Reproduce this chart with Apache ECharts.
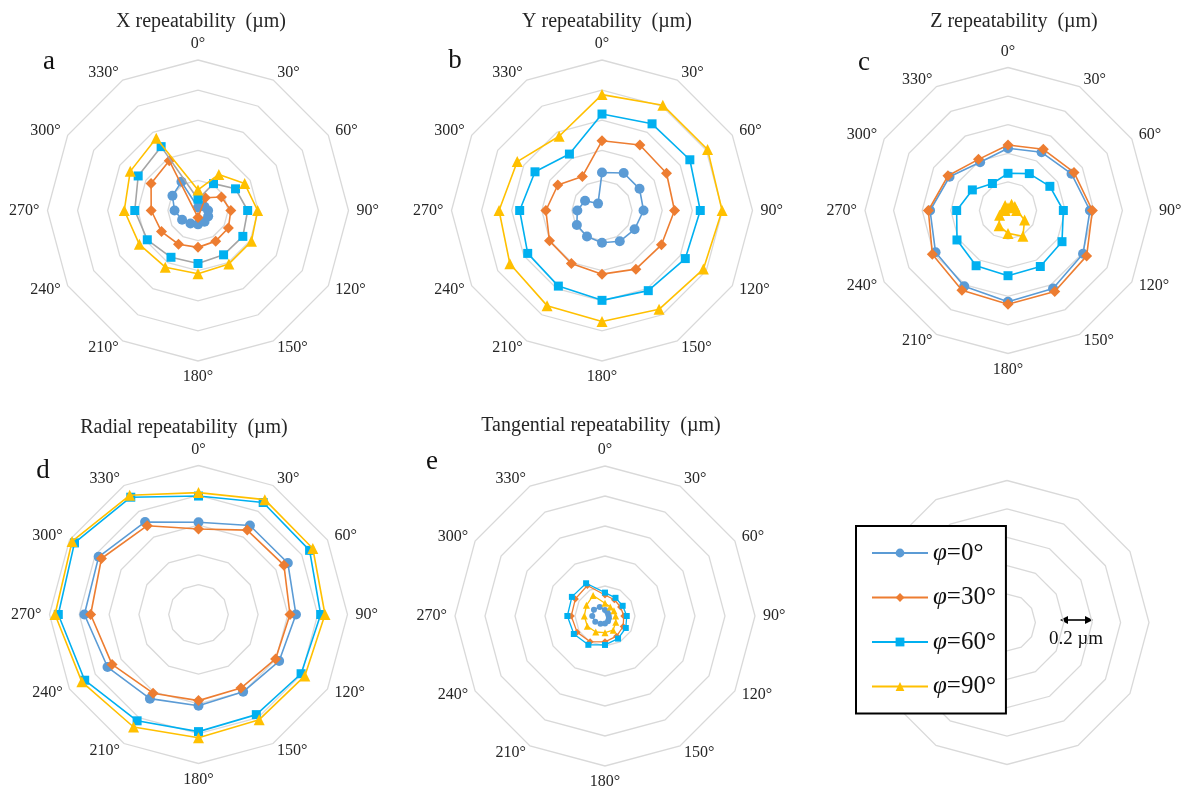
<!DOCTYPE html>
<html>
<head>
<meta charset="utf-8">
<script src="https://cdn.jsdelivr.net/npm/echarts@6/dist/echarts.min.js"></script>
<style>
  html, body { margin: 0; padding: 0; background: #ffffff; }
  #chart { width: 1186px; height: 792px; }
</style>
</head>
<body>
<div id="chart"></div>
<script>
// Spoke labels, clockwise from the top
const angleLabels = ['0°', '30°', '60°', '90°', '120°', '150°', '180°', '210°', '240°', '270°', '300°', '330°'];
const phiNames = ['φ=0°', 'φ=30°', 'φ=60°', 'φ=90°'];
const panelTitles = ['X repeatability  (µm)', 'Y repeatability  (µm)', 'Z repeatability  (µm)',
                     'Radial repeatability  (µm)', 'Tangential repeatability  (µm)'];
const panelLetters = ['a', 'b', 'c', 'd', 'e'];

// Repeatability (µm) at each spoke angle, one array per tilt angle φ
const xPhi0  = [0.020, 0.040, 0.050, 0.067, 0.078, 0.087, 0.092, 0.100, 0.122, 0.156, 0.196, 0.220];
const xPhi30 = [-0.046, 0.098, 0.180, 0.218, 0.233, 0.235, 0.245, 0.259, 0.280, 0.311, 0.360, 0.382];
const xPhi60 = [0.075, 0.206, 0.288, 0.330, 0.344, 0.340, 0.352, 0.359, 0.389, 0.420, 0.459, 0.490];
const xPhi90 = [0.137, 0.277, 0.358, 0.396, 0.410, 0.410, 0.420, 0.435, 0.450, 0.490, 0.520, 0.555];

const yPhi0  = [0.252, 0.288, 0.288, 0.276, 0.250, 0.236, 0.214, 0.200, 0.193, 0.164, 0.130, 0.053];
const yPhi30 = [0.463, 0.503, 0.495, 0.482, 0.456, 0.450, 0.423, 0.407, 0.403, 0.373, 0.339, 0.261];
const yPhi60 = [0.641, 0.665, 0.674, 0.653, 0.639, 0.615, 0.597, 0.580, 0.570, 0.547, 0.514, 0.433];
const yPhi90 = [0.770, 0.808, 0.810, 0.798, 0.778, 0.758, 0.737, 0.730, 0.707, 0.684, 0.650, 0.570];

const zPhi0  = [0.435, 0.470, 0.513, 0.573, 0.606, 0.630, 0.638, 0.612, 0.585, 0.545, 0.472, 0.390];
const zPhi30 = [0.458, 0.494, 0.533, 0.590, 0.635, 0.654, 0.656, 0.644, 0.611, 0.557, 0.485, 0.413];
const zPhi60 = [0.260, 0.298, 0.338, 0.387, 0.436, 0.452, 0.456, 0.446, 0.412, 0.359, 0.288, 0.218];
const zPhi90 = [0.020, 0.050, 0.055, 0.060, 0.134, 0.208, 0.160, 0.124, 0.068, 0.020, 0.030, 0.040];

const rPhi0  = [0.619, 0.690, 0.692, 0.654, 0.625, 0.599, 0.612, 0.652, 0.705, 0.766, 0.774, 0.717];
const rPhi30 = [0.574, 0.654, 0.662, 0.614, 0.597, 0.570, 0.578, 0.610, 0.670, 0.724, 0.752, 0.688];
const rPhi60 = [0.795, 0.868, 0.861, 0.820, 0.795, 0.776, 0.786, 0.824, 0.882, 0.941, 0.961, 0.909];
const rPhi90 = [0.818, 0.890, 0.886, 0.849, 0.824, 0.815, 0.827, 0.872, 0.904, 0.963, 0.980, 0.924];

const tPhi0  = [0.040, 0.030, 0.025, 0.025, 0.030, 0.040, 0.050, 0.060, 0.075, 0.085, 0.085, 0.070];
const tPhi30 = [0.140, 0.125, 0.120, 0.125, 0.140, 0.155, 0.172, 0.198, 0.215, 0.225, 0.228, 0.235];
const tPhi60 = [0.156, 0.140, 0.136, 0.145, 0.160, 0.174, 0.193, 0.222, 0.240, 0.251, 0.255, 0.252];
const tPhi90 = [0.085, 0.070, 0.069, 0.071, 0.083, 0.109, 0.111, 0.123, 0.136, 0.138, 0.143, 0.158];

const panelData = [
  [xPhi0, xPhi30, xPhi60, xPhi90],
  [yPhi0, yPhi30, yPhi60, yPhi90],
  [zPhi0, zPhi30, zPhi60, zPhi90],
  [rPhi0, rPhi30, rPhi60, rPhi90],
  [tPhi0, tPhi30, tPhi60, tPhi90]
];

// ---- layout & styling ----
const SERIF = '"Liberation Serif", "Times New Roman", serif';
const TEXT = '#262626';
const phiColors = ['#5B9BD5', '#ED7D31', '#00B0F0', '#FFC000'];
const phiSymbols = ['circle', 'diamond', 'rect', 'triangle'];
const bigSizes = [10, 11, 9, 11];
const smallSizes = [6, 7, 6, 7];

// radar geometry: [cx, cy, radius]; the sixth one only carries the legend
const radarGeom = [
  [198, 210.5, 150.5],
  [602, 210.5, 150.5],
  [1008, 210.5, 143],
  [198.5, 614.5, 149],
  [605, 616, 150],
  [1007, 622.5, 142]
];
const titlePos = [[201, 12], [607, 12], [1014, 12], [184, 418], [601, 416]];
const letterPos = [[49, 48], [455, 47], [864, 49], [43, 457], [432, 448]];

// ECharts lays radar indicators out counter-clockwise; feed them in reverse so angles run clockwise
const order = angleLabels.map((_, k) => (12 - k) % 12);
const reorder = arr => order.map(i => arr[i]);

const radars = radarGeom.map((g, p) => ({
  center: [g[0], g[1]],
  radius: g[2],
  startAngle: 90,
  shape: 'polygon',
  splitNumber: 5,
  nameGap: 8,
  indicator: order.map(i => ({ name: p < 5 ? angleLabels[i] : '', min: 0, max: 1 })),
  axisName: { show: p < 5, color: TEXT, fontFamily: SERIF, fontSize: 16 },
  axisLine: { show: false },
  axisTick: { show: false },
  axisLabel: { show: false },
  splitArea: { show: false },
  splitLine: { lineStyle: { color: '#d9d9d9', width: 1.3 } }
}));

const series = [];
// line-style entries that give the legend its line-with-marker icons
phiNames.forEach((name, j) => {
  series.push({
    type: 'line', name: name, xAxisIndex: 0, yAxisIndex: 0, data: [],
    symbol: phiSymbols[j], symbolSize: 9,
    lineStyle: { color: phiColors[j], width: 2 },
    itemStyle: { color: phiColors[j] }
  });
});
panelData.forEach((sets, p) => {
  const sizes = p === 4 ? smallSizes : bigSizes;
  sets.forEach((vals, j) => {
    const lineColor = (p === 0 && j === 2) ? '#a5a5a5' : phiColors[j];
    series.push({
      type: 'radar', name: phiNames[j], radarIndex: p,
      symbol: phiSymbols[j], symbolSize: sizes[j],
      lineStyle: { color: lineColor, width: p === 4 ? 1.3 : 1.6 },
      itemStyle: { color: phiColors[j] },
      z: 3 + j,
      silent: true,
      data: [{ value: reorder(vals), name: phiNames[j] }]
    });
  });
});

const titles = [];
panelTitles.forEach((t, p) => {
  titles.push({
    text: t, left: titlePos[p][0], top: titlePos[p][1], textAlign: 'center', padding: 0,
    textStyle: { fontFamily: SERIF, fontSize: 20, fontWeight: 'normal', color: TEXT }
  });
  titles.push({
    text: panelLetters[p], left: letterPos[p][0], top: letterPos[p][1], textAlign: 'center', padding: 0,
    textStyle: { fontFamily: SERIF, fontSize: 27, fontWeight: 'normal', color: '#111' }
  });
});

const option = {
  backgroundColor: '#ffffff',
  animation: false,
  title: titles,
  grid: { left: 0, top: 0, width: 1, height: 1, show: false },
  xAxis: { type: 'value', show: false },
  yAxis: { type: 'value', show: false },
  radar: radars,
  legend: {
    data: phiNames,
    orient: 'vertical',
    left: 856, top: 526,
    padding: [14, 10, 14, 15],
    itemWidth: 56, itemHeight: 11, itemGap: 18.5,
    backgroundColor: '#ffffff',
    borderColor: '#000000', borderWidth: 2,
    selectedMode: false,
    formatter: name => '{i|φ}' + name.slice(1),
    textStyle: {
      fontFamily: SERIF, fontSize: 25, lineHeight: 26, color: '#111',
      rich: { i: { fontFamily: SERIF, fontSize: 25, lineHeight: 26, fontStyle: 'italic', color: '#111' } }
    }
  },
  graphic: [
    { type: 'line', shape: { x1: 1064, y1: 620, x2: 1089, y2: 620 }, style: { stroke: '#000', lineWidth: 1.6 } },
    { type: 'polygon', shape: { points: [[1060, 620], [1068, 616], [1068, 624]] }, style: { fill: '#000' } },
    { type: 'polygon', shape: { points: [[1093, 620], [1085, 616], [1085, 624]] }, style: { fill: '#000' } },
    { type: 'text', x: 1076, y: 639,
      style: { text: '0.2 µm', fill: '#111', fontFamily: SERIF, fontSize: 19,
               align: 'center', verticalAlign: 'middle', textAlign: 'center', textVerticalAlign: 'middle' } }
  ],
  series: series
};

const chart = echarts.init(document.getElementById('chart'), null, { renderer: 'canvas' });
chart.setOption(option);
</script>
</body>
</html>
